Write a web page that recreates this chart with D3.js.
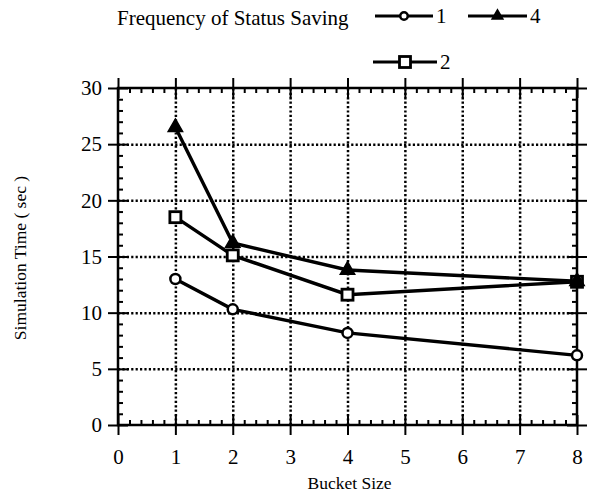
<!DOCTYPE html>
<html>
<head>
<meta charset="utf-8">
<script src="https://cdn.jsdelivr.net/npm/d3@7"></script>
<style>
body { margin: 0; background: #fff; }
svg text { font-family: "Liberation Serif", "Times New Roman", serif; fill: #000; }
.axis path { display: none; }
.axis line { stroke: #000; stroke-width: 2; }
.grid line { stroke: #000; stroke-width: 2.5; stroke-dasharray: 2.2,2.2; }
.grid path { display: none; }
</style>
</head>
<body>
<script>
var w = 590, h = 494;
var buckets = [1, 2, 4, 8];
var series1 = [13.0, 10.3, 8.2, 6.2];
var series2 = [18.5, 15.1, 11.6, 12.75];
var series4 = [26.5, 16.2, 13.8, 12.8];
var xTicks = [0, 1, 2, 3, 4, 5, 6, 7, 8];
var yTicks = [0, 5, 10, 15, 20, 25, 30];
var legendTitle = "Frequency of Status Saving";

var pLeft = 118, pRight = 577, pTop = 88, pBottom = 425;
var svg = d3.select("body").append("svg").attr("width", w).attr("height", h);

var x = d3.scaleLinear().domain([0, 8]).range([pLeft, pRight]);
var y = d3.scaleLinear().domain([0, 30]).range([pBottom, pTop]);

var xMinor = d3.range(0, 8.01, 0.2).filter(function(d){ return Math.abs(d - Math.round(d)) > 0.01; });
var yMinor = d3.range(0, 30.01, 1).filter(function(d){ return d % 5 != 0; });

// dotted grid
svg.append("g").attr("class", "grid").attr("transform", "translate(0," + pBottom + ")")
	.call(d3.axisBottom(x).tickValues(xTicks.slice(1, -1)).tickSize(-(pBottom - pTop)).tickFormat(""));
svg.append("g").attr("class", "grid").attr("transform", "translate(" + pLeft + ",0)")
	.call(d3.axisLeft(y).tickValues(yTicks.slice(1, -1)).tickSize(-(pRight - pLeft)).tickFormat(""));

// frame
svg.append("rect").attr("x", pLeft).attr("y", pTop).attr("width", pRight - pLeft).attr("height", pBottom - pTop)
	.attr("fill", "none").attr("stroke", "#000").attr("stroke-width", 2.5);

// major ticks crossing the frame, with labels
var xa = svg.append("g").attr("class", "axis").attr("transform", "translate(0," + pBottom + ")")
	.call(d3.axisBottom(x).tickValues(xTicks).tickSizeInner(10).tickPadding(14).tickFormat(d3.format("d")));
xa.selectAll("text").style("font-size", "21px");
svg.append("g").attr("class", "axis").attr("transform", "translate(0," + pBottom + ")")
	.call(d3.axisBottom(x).tickValues(xTicks).tickSize(-10).tickFormat(""));
var ya = svg.append("g").attr("class", "axis").attr("transform", "translate(" + pLeft + ",0)")
	.call(d3.axisLeft(y).tickValues(yTicks).tickSizeInner(10).tickPadding(6).tickFormat(d3.format("d")));
ya.selectAll("text").style("font-size", "21px");
svg.append("g").attr("class", "axis").attr("transform", "translate(" + pLeft + ",0)")
	.call(d3.axisLeft(y).tickValues(yTicks).tickSize(-10).tickFormat(""));
svg.append("g").attr("class", "axis").attr("transform", "translate(0," + pTop + ")")
	.call(d3.axisTop(x).tickValues(xTicks).tickSize(10).tickFormat(""));
svg.append("g").attr("class", "axis").attr("transform", "translate(0," + pTop + ")")
	.call(d3.axisTop(x).tickValues(xTicks).tickSize(-10).tickFormat(""));
svg.append("g").attr("class", "axis").attr("transform", "translate(" + pRight + ",0)")
	.call(d3.axisRight(y).tickValues(yTicks).tickSize(10).tickFormat(""));
svg.append("g").attr("class", "axis").attr("transform", "translate(" + pRight + ",0)")
	.call(d3.axisRight(y).tickValues(yTicks).tickSize(-10).tickFormat(""));

// minor ticks pointing in
svg.append("g").attr("class", "axis").attr("transform", "translate(0," + pBottom + ")")
	.call(d3.axisBottom(x).tickValues(xMinor).tickSize(-5).tickFormat(""));
svg.append("g").attr("class", "axis").attr("transform", "translate(0," + pTop + ")")
	.call(d3.axisTop(x).tickValues(xMinor).tickSize(-5).tickFormat(""));
svg.append("g").attr("class", "axis").attr("transform", "translate(" + pLeft + ",0)")
	.call(d3.axisLeft(y).tickValues(yMinor).tickSize(-5).tickFormat(""));
svg.append("g").attr("class", "axis").attr("transform", "translate(" + pRight + ",0)")
	.call(d3.axisRight(y).tickValues(yMinor).tickSize(-5).tickFormat(""));

// axis titles
svg.append("text").attr("x", (pLeft + pRight) / 2 + 2).attr("y", 489).attr("text-anchor", "middle")
	.style("font-size", "17.5px").text("Bucket Size");
svg.append("text").attr("transform", "translate(26,258) rotate(-90)").attr("text-anchor", "middle")
	.style("font-size", "17.5px").text("Simulation Time ( sec )");

// lines and markers
var line = d3.line().x(function(d){ return x(d[0]); }).y(function(d){ return y(d[1]); });
var series = [
	{ name: "1", values: series1, marker: "circle" },
	{ name: "2", values: series2, marker: "square" },
	{ name: "4", values: series4, marker: "triangle" }
];

function drawMarker(g, type, cx, cy, k) {
	if (type == "circle") {
		g.append("circle").attr("cx", cx).attr("cy", cy).attr("r", 5 * k)
			.attr("fill", "#fff").attr("stroke", "#000").attr("stroke-width", 2.5);
	} else if (type == "square") {
		g.append("rect").attr("x", cx - 5.5 * k).attr("y", cy - 5.5 * k).attr("width", 11 * k).attr("height", 11 * k)
			.attr("fill", "#fff").attr("stroke", "#000").attr("stroke-width", 2.8);
	} else {
		g.append("path").attr("d", d3.symbol().type(d3.symbolTriangle).size(90 * k * k)())
			.attr("transform", "translate(" + cx + "," + cy + ")")
			.attr("fill", "#000").attr("stroke", "#000").attr("stroke-width", 1.5);
	}
}

series.forEach(function(s) {
	var pts = buckets.map(function(b, i){ return [b, s.values[i]]; });
	svg.append("path").datum(pts).attr("d", line)
		.attr("fill", "none").attr("stroke", "#000").attr("stroke-width", 3.4);
});
series.forEach(function(s) {
	var g = svg.append("g");
	buckets.forEach(function(b, i) {
		drawMarker(g, s.marker, x(b), y(s.values[i]), 1);
	});
});

// legend
svg.append("text").attr("x", 117).attr("y", 25).style("font-size", "21px").text(legendTitle);
var legendItems = [
	{ s: series[0], x1: 375, x2: 433, ly: 16 },
	{ s: series[2], x1: 468, x2: 527, ly: 16 },
	{ s: series[1], x1: 373, x2: 437, ly: 62 }
];
legendItems.forEach(function(d) {
	var g = svg.append("g");
	g.append("line").attr("x1", d.x1).attr("x2", d.x2).attr("y1", d.ly).attr("y2", d.ly)
		.attr("stroke", "#000").attr("stroke-width", 3);
	drawMarker(g, d.s.marker, (d.x1 + d.x2) / 2, d.ly, d.s.marker == "square" ? 1 : 0.75);
	g.append("text").attr("x", d.x2 + 3).attr("y", d.ly + 7).style("font-size", "21px").text(d.s.name);
});
</script>
</body>
</html>
